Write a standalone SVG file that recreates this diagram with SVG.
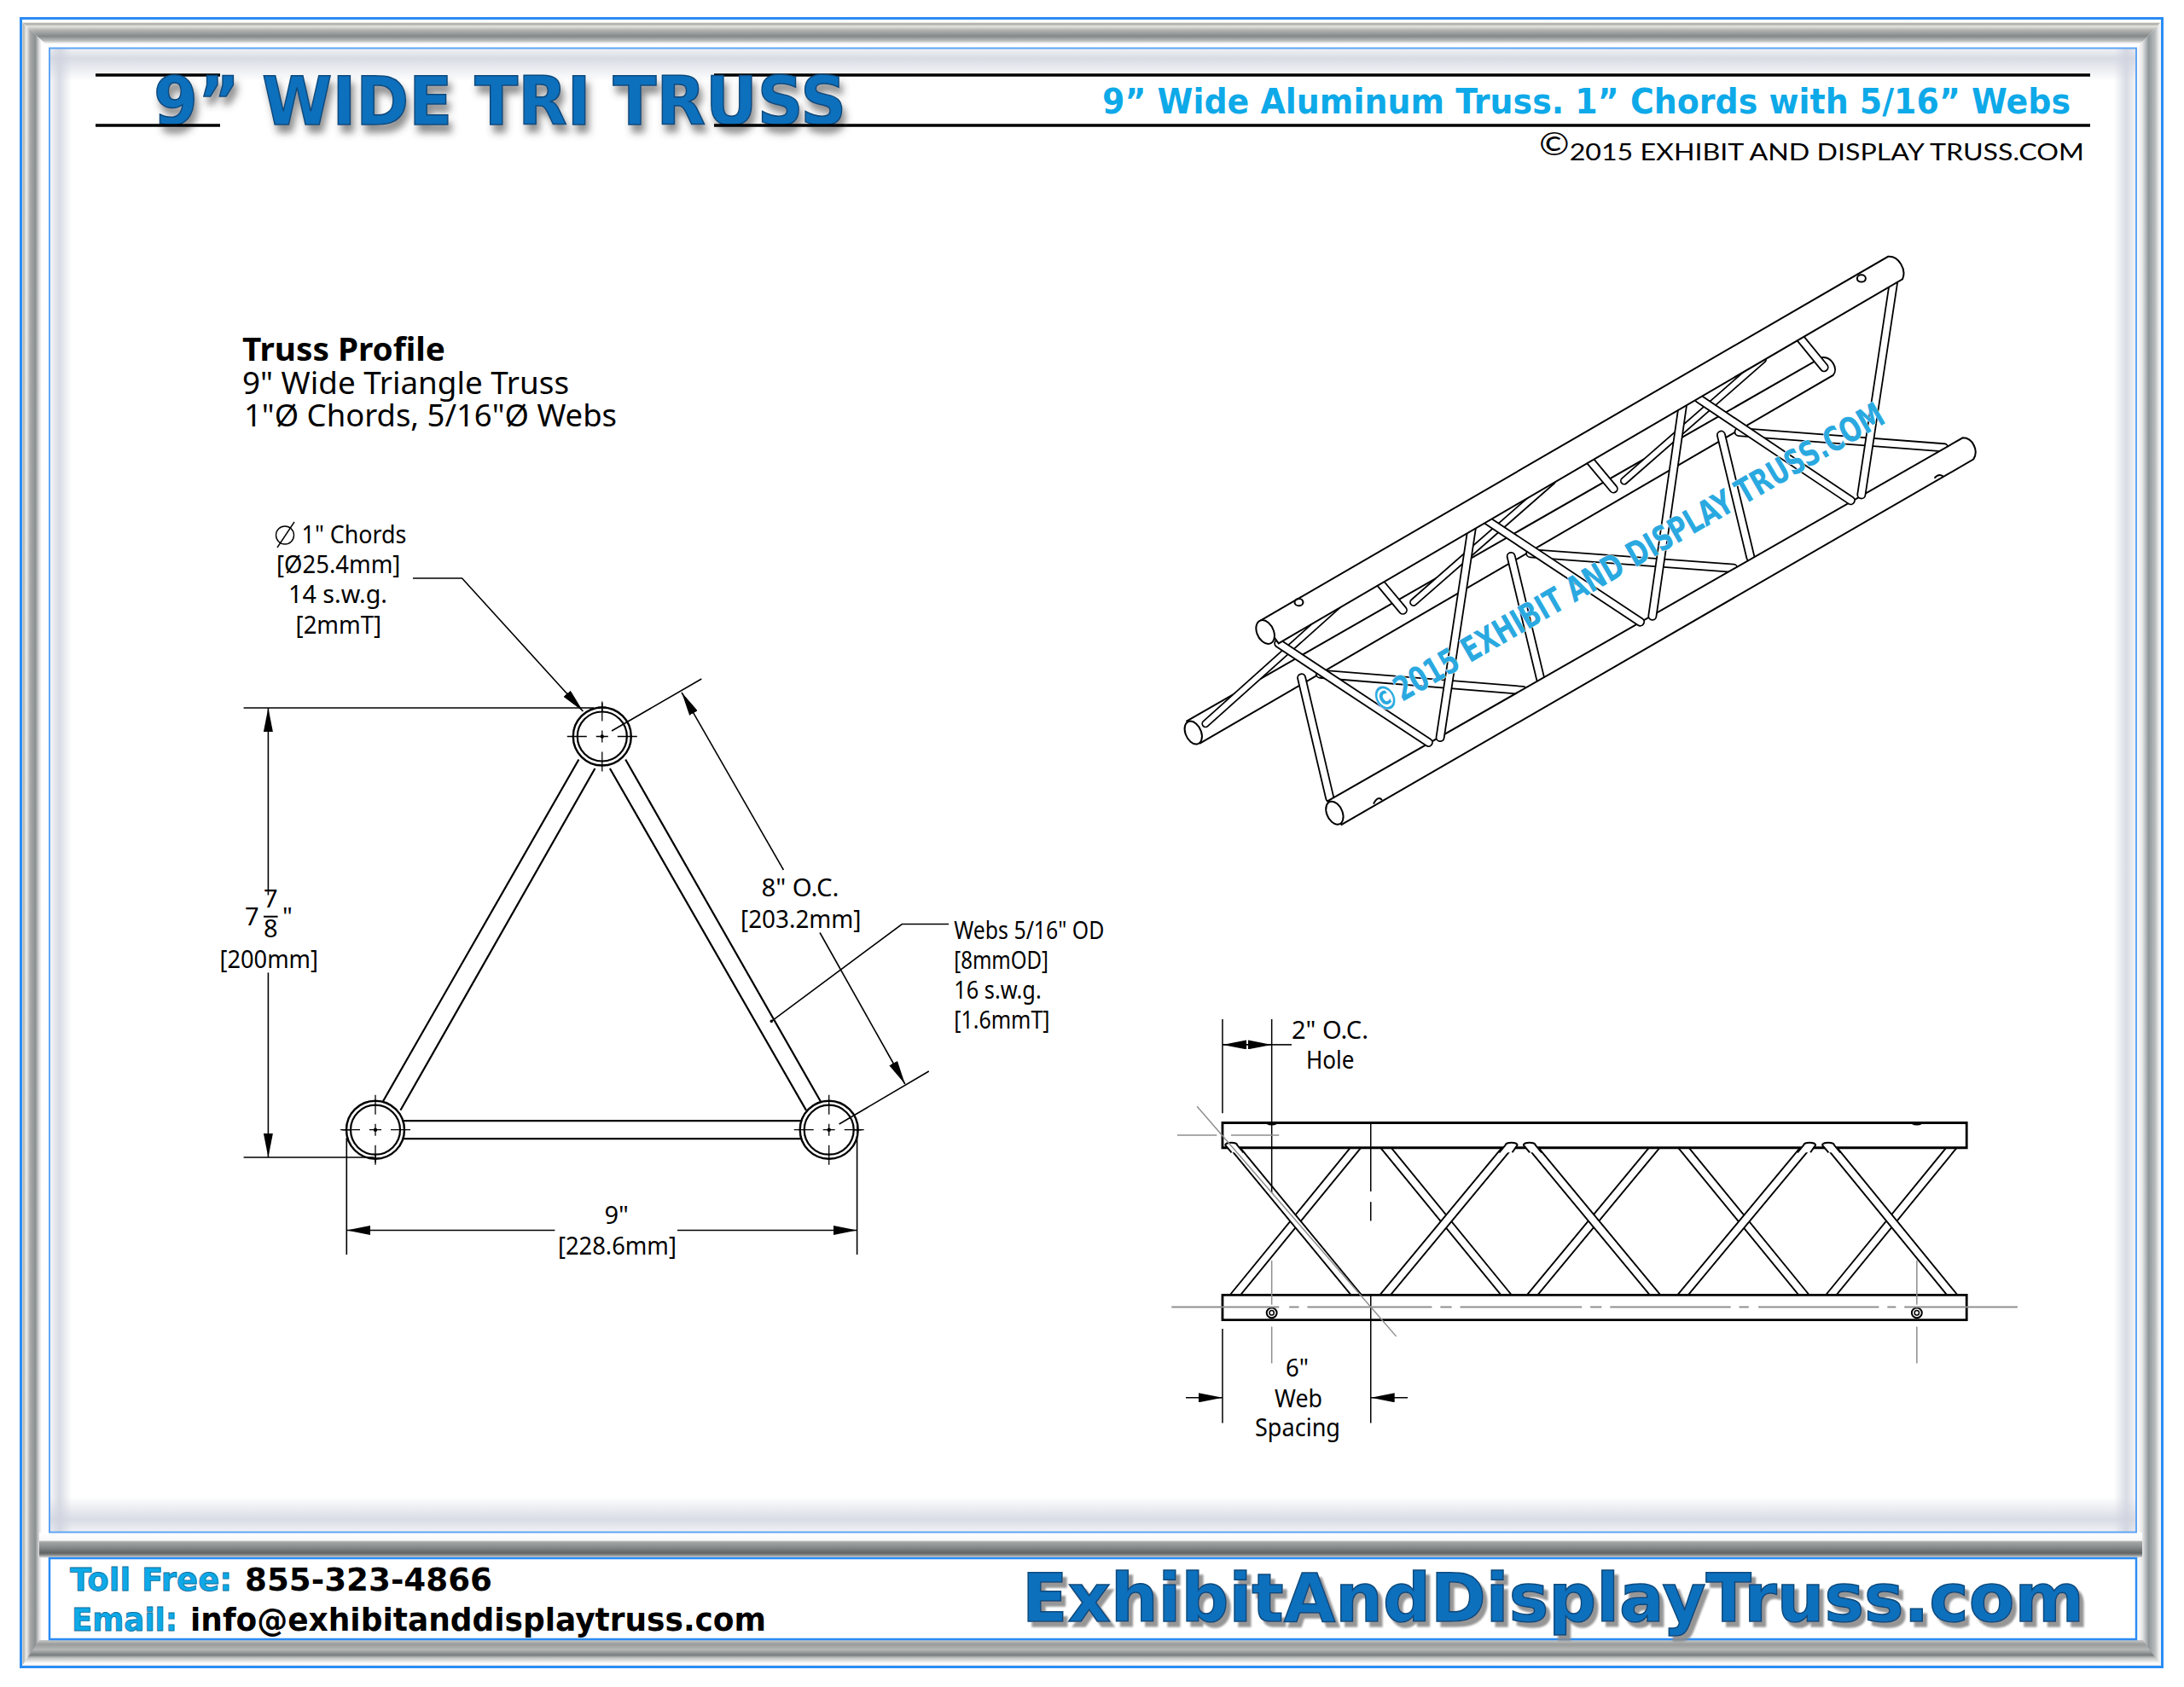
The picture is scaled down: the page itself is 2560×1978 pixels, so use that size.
<svg xmlns="http://www.w3.org/2000/svg" width="2560" height="1978" viewBox="0 0 2560 1978">
<style>
text{font-family:"Noto Sans","DejaVu Sans",sans-serif;fill:#000}
.dv{font-family:"DejaVu Sans","Noto Sans",sans-serif;font-weight:bold}
.lb{font-size:29px}
.pf{font-size:37px}
.ttl{font-size:78px;fill:#0b6fbd;stroke:#0a4a7c;stroke-width:1.5px}
.sub{font-size:41px;fill:#0ea9e8}
.ft{font-size:38px}
.ftb{fill:#0ea9e8;stroke:#0b6fa0;stroke-width:.8px}
.big{font-size:78px;fill:#0b6fbd;stroke:#0a4a7c;stroke-width:1.5px}
.wm{font-size:40px;fill:#2aa9e0;stroke:#fff;stroke-width:1px;paint-order:stroke}
.l{fill:none;stroke:#000;stroke-width:1.6px}
.ns{vector-effect:non-scaling-stroke}
.tube{fill:#fff;stroke:#000;stroke-width:2px;vector-effect:non-scaling-stroke}
.ln{fill:none;stroke:#000;stroke-width:2px;vector-effect:non-scaling-stroke}
.thin{fill:none;stroke:#000;stroke-width:1.5px;vector-effect:non-scaling-stroke}
.g{fill:none;stroke:#8f8f8f;stroke-width:1.5px;vector-effect:non-scaling-stroke}
.wo{fill:none;stroke:#000;stroke-width:11px;stroke-linecap:round}
.wi{fill:none;stroke:#fff;stroke-width:7.4px;stroke-linecap:round}
.so{fill:none;stroke:#000;stroke-width:11.500px}
.si{fill:none;stroke:#fff;stroke-width:7.700px}
</style>
<defs>
<marker id="a" viewBox="0 0 28 11" refX="28" refY="5.5" markerUnits="userSpaceOnUse" markerWidth="28" markerHeight="11" orient="auto-start-reverse"><path d="M0,0L28,5.5L0,11z" fill="#000"/></marker>
<linearGradient id="gt" x1="0" y1="26" x2="0" y2="56" gradientUnits="userSpaceOnUse"><stop offset="0" stop-color="#fff"/><stop offset=".06" stop-color="#a5a59d"/><stop offset=".16" stop-color="#e4e4e0"/><stop offset=".3" stop-color="#b5b5b3"/><stop offset=".55" stop-color="#85898a"/><stop offset=".72" stop-color="#b9bbbb"/><stop offset=".85" stop-color="#fff"/><stop offset="1" stop-color="#fff"/></linearGradient>
<linearGradient id="gl" x1="25" y1="0" x2="58" y2="0" gradientUnits="userSpaceOnUse"><stop offset="0" stop-color="#fff"/><stop offset=".08" stop-color="#b5b5b0"/><stop offset=".18" stop-color="#eee"/><stop offset=".32" stop-color="#a8a8a8"/><stop offset=".5" stop-color="#8b9090"/><stop offset=".62" stop-color="#d5d5d5"/><stop offset=".72" stop-color="#fff"/><stop offset="1" stop-color="#fff"/></linearGradient>
<linearGradient id="gr" x1="2505" y1="0" x2="2535" y2="0" gradientUnits="userSpaceOnUse"><stop offset="0" stop-color="#fff"/><stop offset=".2" stop-color="#e8e8e8"/><stop offset=".45" stop-color="#90979a"/><stop offset=".7" stop-color="#b8bcbc"/><stop offset=".85" stop-color="#eee"/><stop offset="1" stop-color="#fff"/></linearGradient>
<linearGradient id="gd" x1="0" y1="1797" x2="0" y2="1827" gradientUnits="userSpaceOnUse"><stop offset="0" stop-color="#fff"/><stop offset=".3" stop-color="#f8f8f8"/><stop offset=".36" stop-color="#a5a8a6"/><stop offset=".6" stop-color="#83878a"/><stop offset=".8" stop-color="#606362"/><stop offset=".9" stop-color="#9a9c9c"/><stop offset="1" stop-color="#fff"/></linearGradient>
<linearGradient id="gb" x1="0" y1="1923" x2="0" y2="1955" gradientUnits="userSpaceOnUse"><stop offset="0" stop-color="#c8c8c8"/><stop offset=".15" stop-color="#9a9c9c"/><stop offset=".35" stop-color="#b5b7b7"/><stop offset=".55" stop-color="#797d7e"/><stop offset=".65" stop-color="#c0c2c2"/><stop offset=".85" stop-color="#fdfdfd"/><stop offset="1" stop-color="#e2e4e2"/></linearGradient>
<linearGradient id="bt" x1="0" y1="0" x2="0" y2="1"><stop offset="0" stop-color="#cfd3de" stop-opacity=".3"/><stop offset=".3" stop-color="#cfd3de" stop-opacity=".8"/><stop offset="1" stop-color="#cfd3de" stop-opacity="0"/></linearGradient>
<linearGradient id="bb" x1="0" y1="1" x2="0" y2="0"><stop offset="0" stop-color="#cfd3de" stop-opacity=".3"/><stop offset=".35" stop-color="#cfd3de" stop-opacity=".8"/><stop offset="1" stop-color="#cfd3de" stop-opacity="0"/></linearGradient>
<linearGradient id="bl" x1="0" y1="0" x2="1" y2="0"><stop offset="0" stop-color="#cfd3de" stop-opacity=".2"/><stop offset=".45" stop-color="#cfd3de" stop-opacity=".8"/><stop offset="1" stop-color="#cfd3de" stop-opacity="0"/></linearGradient>
<linearGradient id="br" x1="1" y1="0" x2="0" y2="0"><stop offset="0" stop-color="#cfd3de" stop-opacity=".2"/><stop offset=".45" stop-color="#cfd3de" stop-opacity=".8"/><stop offset="1" stop-color="#cfd3de" stop-opacity="0"/></linearGradient>
<filter id="sh" x="-5%" y="-20%" width="110%" height="160%"><feDropShadow dx="4" dy="9" stdDeviation="4" flood-color="#444" flood-opacity=".6"/></filter>
<filter id="sh2" x="-5%" y="-20%" width="110%" height="150%"><feDropShadow dx="5" dy="6" stdDeviation=".8" flood-color="#8a8a8a" flood-opacity=".9"/></filter>
<g id="ch"><path class="l" d="M-41,0H-18M-7,0H7M18,0H41M0,-41V-18M0,-7V7M0,18V41" style="stroke-width:1.3px"/><circle r="2.2" fill="#000"/></g>
<g id="st"><path class="l" d="M-5,0H5M0,-5V5" style="stroke-width:1.5px"/></g>
<g id="node"><circle r="34" fill="#fff" stroke="#000" stroke-width="2.4"/><circle r="29" fill="#fff" stroke="#000" stroke-width="2.2"/></g>
<path id="w1" class="ns" d="M300,1108L680,1150M694,800L1075,838M1085,490L1470,530"/>
<path id="w2" class="ns" d="M85,1235L335,930M475,925L735,615M870,615L1130,305"/>
<path id="w3" class="ns" d="M412,875L455,945M807,565L850,635M1200,250L1245,325"/>
<path id="w4" class="ns" d="M265,1118L318,1425M658,808L713,1120M1052,498L1107,810"/>
<path id="w5" class="ns" d="M222,1030L503,1283M612,715L900,975M1010,405L1295,665"/>
<path id="w6" class="ns" d="M585,730L525,1270M980,420L923,960M1375,110L1315,650"/>
<path id="s1" class="ns" d="M352,490L127,1020M880,490L652,1020M1405,490L1180,1020M392,490L617,1020M918,490L1143,1020"/>
<path id="s2" class="ns" d="M125,490L352,1020M652,490L880,1020M1180,490L1405,1020M620,490L392,1020M1147,490L918,1020"/>
</defs>

<rect width="2560" height="1978" fill="#fff"/>

<g id="frame">
<rect x="24" y="21" width="2510" height="1934" fill="#fff"/>
<polygon points="26,26 2533,26 2505,56 58,56" fill="url(#gt)"/>
<polygon points="26,26 58,56 58,1923 26,1953" fill="url(#gl)"/>
<polygon points="2533,26 2505,56 2505,1923 2533,1953" fill="url(#gr)"/>
<rect x="46" y="1797" width="2465" height="30" fill="url(#gd)"/>
<polygon points="46,1923 2512,1923 2533,1953 26,1953" fill="url(#gb)"/>
<rect x="58" y="56.500" width="2446" height="1740" fill="#fff"/>
<rect x="58" y="57" width="2446" height="38" fill="url(#bt)"/>
<rect x="58" y="1755" width="2446" height="41" fill="url(#bb)"/>
<rect x="58" y="57" width="26" height="1739" fill="url(#bl)"/>
<rect x="2478" y="57" width="26" height="1739" fill="url(#br)"/>
<rect x="58" y="1827" width="2446" height="95" fill="#fff"/>
<rect x="24.500" y="21.500" width="2510" height="1933" fill="none" stroke="#2a8cf5" stroke-width="3"/>
<rect x="58" y="56.500" width="2446" height="1740" fill="none" stroke="#5fa5f5" stroke-width="2"/>
<rect x="58" y="1827" width="2446" height="95" fill="none" stroke="#2a8cf5" stroke-width="2.500"/>
</g>

<g id="header">
<path d="M112,88H258M837,88H2450M990,147H2450" fill="none" stroke="#000" stroke-width="3.500"/>
<text class="dv ttl" x="180" y="146" textLength="812" lengthAdjust="spacingAndGlyphs" filter="url(#sh)">9” WIDE TRI TRUSS</text>
<path d="M112,147H258M837,147H990" fill="none" stroke="#000" stroke-width="3.500"/>
<text class="dv sub" x="1292" y="133" textLength="1135" lengthAdjust="spacingAndGlyphs">9” Wide Aluminum Truss. 1” Chords with 5/16” Webs</text>
<text x="1804" y="188" font-size="27" textLength="639" lengthAdjust="spacingAndGlyphs" style="font-family:Lato,'Noto Sans',sans-serif"><tspan font-size="36" dy="-6">©</tspan><tspan dy="6">2015 EXHIBIT AND DISPLAY TRUSS.COM</tspan></text>
</g>

<g id="profile-title">
<text class="pf" x="284" y="423" font-weight="bold" textLength="238" lengthAdjust="spacingAndGlyphs">Truss Profile</text>
<text class="pf" x="284" y="462" textLength="383" lengthAdjust="spacingAndGlyphs">9" Wide Triangle Truss</text>
<text class="pf" x="286" y="500" textLength="437" lengthAdjust="spacingAndGlyphs">1"Ø Chords, 5/16"Ø Webs</text>
</g>

<g id="profile" transform="translate(0,1.2)">
<g id="profile-webs" class="l" style="stroke-width:2.200px">
<path d="M678.400,889.300L449,1290M697.400,899.800L469.400,1300.600M733.200,889.300L962.500,1291.300M714.900,899.800L945,1300.700M471.500,1313H939.400M471.500,1334H939.400"/>
</g>
<use href="#node" x="705.800" y="862.300"/>
<use href="#node" x="440" y="1323.500"/>
<use href="#node" x="971.700" y="1323.500"/>
<use href="#ch" x="705.800" y="862.300"/>
<use href="#ch" x="440" y="1323.500"/>
<use href="#ch" x="971.700" y="1323.500"/>
<use href="#st" x="406.300" y="1323.500"/>
<use href="#st" x="440" y="1357"/>
<use href="#st" x="1005" y="1323.500"/>
<use href="#st" x="705.800" y="828"/>
</g>

<g id="profile-dims">
<path class="l" d="M285.600,830H696M285.600,1357H438.500"/>
<path class="l" d="M314.400,1049.500V830" marker-end="url(#a)"/>
<path class="l" d="M314.400,1140.400V1357" marker-end="url(#a)"/>
<path class="l" d="M309,1074.700H325.600" style="stroke-width:2px"/>
<text class="lb" x="287" y="1085">7</text>
<text class="lb" x="309" y="1064">7</text>
<text class="lb" x="309" y="1099">8</text>
<text class="lb" x="331" y="1085">"</text>
<text class="lb" x="257.500" y="1134.600" textLength="115.500" lengthAdjust="spacingAndGlyphs">[200mm]</text>

<path class="l" d="M406.300,1334V1471M1004.600,1334V1471"/>
<path class="l" d="M650.400,1442.500H406.300" marker-end="url(#a)"/>
<path class="l" d="M794,1442.500H1004.600" marker-end="url(#a)"/>
<text class="lb" x="722.600" y="1435" text-anchor="middle">9"</text>
<text class="lb" x="653.900" y="1471" textLength="139" lengthAdjust="spacingAndGlyphs">[228.6mm]</text>

<path class="l" d="M717,857L822.300,796M983.600,1318L1088.800,1256"/>
<path class="l" d="M918.400,1020L799,811.800" marker-end="url(#a)"/>
<path class="l" d="M961,1093.500L1060.800,1271" marker-end="url(#a)"/>
<text class="lb" x="892.400" y="1051" textLength="91" lengthAdjust="spacingAndGlyphs">8" O.C.</text>
<text class="lb" x="868" y="1087.600" textLength="141.500" lengthAdjust="spacingAndGlyphs">[203.2mm]</text>

<path class="l" d="M484,678H541.600L683.400,834" marker-end="url(#a)"/>
<g class="l"><circle cx="334" cy="627.500" r="10.500" style="stroke-width:1.400px"/><path d="M325,642L345,612" style="stroke-width:1.400px"/></g>
<text class="lb" x="353.600" y="637" textLength="122.800" lengthAdjust="spacingAndGlyphs">1" Chords</text>
<text class="lb" x="324" y="672" textLength="145.400" lengthAdjust="spacingAndGlyphs">[Ø25.4mm]</text>
<text class="lb" x="338" y="707" textLength="116" lengthAdjust="spacingAndGlyphs">14 s.w.g.</text>
<text class="lb" x="346.600" y="742.500" textLength="100.400" lengthAdjust="spacingAndGlyphs">[2mmT]</text>

<path class="l" d="M904.300,1197.400L1057.300,1083.500H1112"/>
<circle cx="904.300" cy="1197.400" r="1.800" fill="#000"/>
<text class="lb" x="1118.300" y="1100.500" textLength="176" lengthAdjust="spacingAndGlyphs">Webs 5/16" OD</text>
<text class="lb" x="1118.300" y="1135.800" textLength="110.700" lengthAdjust="spacingAndGlyphs">[8mmOD]</text>
<text class="lb" x="1118.300" y="1171" textLength="102.400" lengthAdjust="spacingAndGlyphs">16 s.w.g.</text>
<text class="lb" x="1118.300" y="1206" textLength="112.200" lengthAdjust="spacingAndGlyphs">[1.6mmT]</text>
</g>

<g id="perspective" transform="translate(1360,281.500) scale(.625,.4591)">
<g id="back-chord">
<path class="tube" d="M50,1228L1240,300C1260,296 1272,330 1262,345L75,1285Z"/>
<ellipse class="tube" cx="62" cy="1258" rx="15" ry="30" transform="rotate(-14 62 1258)"/>
</g>
<use href="#w1" class="wo"/><use href="#w1" class="wi"/>
<use href="#w2" class="wo" style="stroke-width:9.500px"/><use href="#w2" class="wi" style="stroke-width:6px"/>
<use href="#w3" class="wo"/><use href="#w3" class="wi"/>
<use href="#w4" class="wo"/><use href="#w4" class="wi"/>
<g id="bottom-chord">
<path class="tube" d="M315,1432L1505,505C1525,505 1535,540 1525,560L340,1493Z"/>
<ellipse class="tube" cx="327" cy="1463" rx="15" ry="30" transform="rotate(-14 327 1463)"/>
<path class="ln" d="M400,1440Q408,1418 416,1430M1452,608Q1460,595 1468,603"/>
</g>
<use href="#w5" class="wo"/><use href="#w5" class="wi"/>
<use href="#w6" class="wo"/><use href="#w6" class="wi"/>
<g id="top-chord">
<path class="tube" d="M190,970L1365,42C1385,40 1400,75 1392,100L222,1030Z"/>
<ellipse class="tube" cx="197" cy="1001" rx="16" ry="31" transform="rotate(-14 197 1001)"/>
<ellipse class="ln" cx="1315" cy="98" rx="8" ry="9"/>
<ellipse class="ln" cx="260" cy="925" rx="8" ry="9"/>
</g>
</g>
<text class="dv wm" transform="translate(1618,838) rotate(-30)" x="0" y="0" textLength="686" lengthAdjust="spacingAndGlyphs">©2015 EXHIBIT AND DISPLAY TRUSS.COM</text>

<g id="side-view" transform="translate(0,1.5)">
<g transform="translate(1360,1170) scale(.6633,.3444)">
<use href="#s1" class="so"/><use href="#s1" class="si"/>
<use href="#s2" class="so"/><use href="#s2" class="si"/>
<rect class="tube" x="110" y="421" width="1315" height="85" style="stroke-width:2.800px"/>
<rect class="tube" x="110" y="1007" width="1315" height="85" style="stroke-width:2.800px"/>
<path style="fill:#fff;stroke:none" d="M115,497A10,8 0 0 1 136,497L147,522L126,522ZM610,497A10,8 0 0 1 631,497L622,522L599,522ZM642,497A10,8 0 0 1 663,497L674,522L653,522ZM1137,497A10,8 0 0 1 1158,497L1149,522L1126,522ZM1170,497A10,8 0 0 1 1191,497L1202,522L1181,522Z"/>
<path class="ln" d="M126,522L115,497A10,8 0 0 1 136,497L147,522M599,522L610,497A10,8 0 0 1 631,497L622,522M653,522L642,497A10,8 0 0 1 663,497L674,522M1126,522L1137,497A10,8 0 0 1 1158,497L1149,522M1181,522L1170,497A10,8 0 0 1 1191,497L1202,522"/>
<path class="ln" d="M188,422Q197,432 206,422M1328,422Q1337,432 1346,422"/>
<ellipse class="ln" cx="197" cy="1068" rx="9" ry="17"/><ellipse class="thin" cx="197" cy="1068" rx="4" ry="8"/>
<ellipse class="ln" cx="1337" cy="1068" rx="9" ry="17"/><ellipse class="thin" cx="1337" cy="1068" rx="4" ry="8"/>
<path class="thin" d="M110,68V388M110,1122V1443M197,68V660M372,421V655M372,690V755M372,1005V1443"/>
<path class="g" d="M65,365L417,1148M30,463H100M125,463H210M197,890V1040M197,1115V1240M1337,890V1040M1337,1115V1240"/>
<path class="g" d="M20,1048H210M228,1048H245M260,1048H480M495,1048H515M530,1048H745M760,1048H780M795,1048H1008M1023,1048H1040M1057,1048H1270M1285,1048H1300M1315,1048H1515" style="stroke-width:2px"/>
</g>
<path class="l" d="M1433,1223.400H1490.700" marker-start="url(#a)" marker-end="url(#a)"/>
<path class="l" d="M1490.700,1223.400H1514"/>
<path class="l" d="M1390,1637.300H1433" marker-end="url(#a)"/>
<path class="l" d="M1650,1637.300H1606.700" marker-end="url(#a)"/>
<text class="lb" x="1514" y="1216.500" textLength="90" lengthAdjust="spacingAndGlyphs">2" O.C.</text>
<text class="lb" x="1531" y="1251" textLength="56.500" lengthAdjust="spacingAndGlyphs">Hole</text>
<text class="lb" x="1507" y="1612.500" textLength="27" lengthAdjust="spacingAndGlyphs">6"</text>
<text class="lb" x="1494" y="1648" textLength="56" lengthAdjust="spacingAndGlyphs">Web</text>
<text class="lb" x="1471" y="1682" textLength="100" lengthAdjust="spacingAndGlyphs">Spacing</text>
</g>

<g id="footer">
<text class="dv ft ftb" x="82" y="1865" textLength="190" lengthAdjust="spacingAndGlyphs">Toll Free:</text>
<text class="dv ft" x="287" y="1865" textLength="290" lengthAdjust="spacingAndGlyphs">855-323-4866</text>
<text class="dv ft ftb" x="84" y="1911.700" textLength="124" lengthAdjust="spacingAndGlyphs">Email:</text>
<text class="dv ft" x="223" y="1911.700" textLength="675" lengthAdjust="spacingAndGlyphs">info@exhibitanddisplaytruss.com</text>
<text class="dv big" x="1198" y="1900.700" textLength="1245" lengthAdjust="spacingAndGlyphs" filter="url(#sh2)">ExhibitAndDisplayTruss.com</text>
</g>
</svg>
